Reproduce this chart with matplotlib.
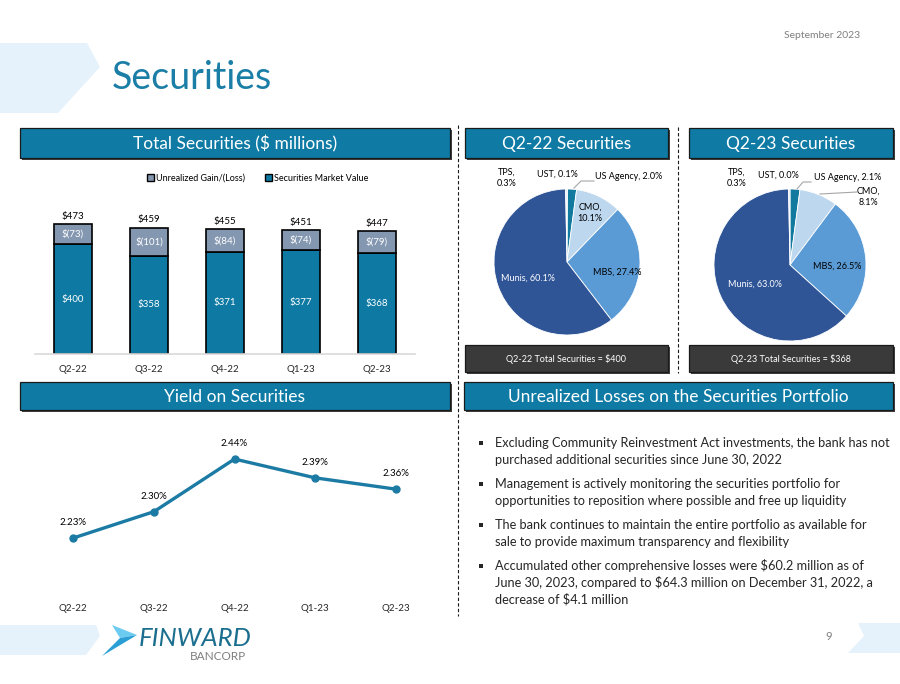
import matplotlib
matplotlib.use('Agg')
import matplotlib.pyplot as plt
from matplotlib.patches import Rectangle, Polygon

# ---------------- data ----------------
quarters = ['Q2-22', 'Q3-22', 'Q4-22', 'Q1-23', 'Q2-23']
market_value = [400, 358, 371, 377, 368]
unrealized_loss = [73, 101, 84, 74, 79]
totals = [473, 459, 455, 451, 447]
yields = [2.23, 2.30, 2.44, 2.39, 2.36]

pie_categories = ['UST', 'US Agency', 'CMO', 'MBS', 'Munis', 'TPS']
pie_q2_22 = [0.1, 2.0, 10.1, 27.4, 60.1, 0.3]
pie_q2_23 = [0.0, 2.1, 8.1, 26.5, 63.0, 0.3]
pie_totals = [400, 368]

bullets = [
    ["Excluding Community Reinvestment Act investments, the bank has not",
     "purchased additional securities since June 30, 2022"],
    ["Management is actively monitoring the securities portfolio for",
     "opportunities to reposition where possible and free up liquidity"],
    ["The bank continues to maintain the entire portfolio as available for",
     "sale to provide maximum transparency and flexibility"],
    ["Accumulated other comprehensive losses were $60.2 million as of",
     "June 30, 2023, compared to $64.3 million on December 31, 2022, a",
     "decrease of $4.1 million"],
]

# ---------------- style ----------------
plt.rcParams['font.family'] = ['Lato', 'DejaVu Sans']
TEAL = '#0F7BA5'
BAR_TEAL = '#0E7AA3'
GRAY_BAR = '#8497B0'
TXT = '#262626'
PIE_COLORS = ['#F2F2F2', '#127A9E', '#BDD7EE', '#5B9BD5', '#2F5597', '#DAE3F3']

W, H = 900, 684
fig = plt.figure(figsize=(9, 6.84), dpi=100)


def fbox(x0, y0, x1, y1):
    return [x0 / W, 1 - y1 / H, (x1 - x0) / W, (y1 - y0) / H]


bg = fig.add_axes([0, 0, 1, 1], zorder=0)
bg.set_xlim(0, W)
bg.set_ylim(H, 0)
bg.axis('off')

# decorative shapes
bg.add_patch(Polygon([(0, 43), (87, 43), (100, 67), (58, 113), (0, 113)],
                     closed=True, fc='#E5F2FB', ec='none'))
bg.add_patch(Polygon([(0, 625), (96, 625), (100, 636), (86, 655), (0, 655)],
                     closed=True, fc='#E5F2FB', ec='none'))
bg.add_patch(Polygon([(858, 623), (900, 623), (900, 653), (848, 653), (864, 636)],
                     closed=True, fc='#E5F2FB', ec='none'))

bg.text(860, 35, 'September 2023', ha='right', va='center', fontsize=7.5, color='#7F7F7F')
bg.text(112, 89, 'Securities', ha='left', va='baseline', fontsize=27, color='#1B7EA6')
bg.text(829, 636, '9', ha='center', va='center', fontsize=8, color='#7F7F7F')

# logo
bg.add_patch(Polygon([(112, 625), (137, 635), (120, 638)], closed=True, fc='#6CCBF0', ec='none'))
bg.add_patch(Polygon([(120, 638), (137, 635), (102, 656)], closed=True, fc='#2A9FD6', ec='none'))
bg.text(139, 638, 'FINWARD', ha='left', va='center', fontsize=18.5, style='italic',
        color='#1B6E8E')
bg.text(246, 656, 'BANCORP', ha='right', va='center', fontsize=8.5, color='#7F7F7F')


def banner(x0, y0, x1, y1, text, fs=12.5, fc=TEAL, tc='white'):
    bg.add_patch(Rectangle((x0 + 1.5, y0 + 1.5), x1 - x0, y1 - y0, fc='#404040', ec='none', zorder=1))
    bg.add_patch(Rectangle((x0, y0), x1 - x0, y1 - y0, fc=fc, ec='#1A1A1A', lw=0.9, zorder=2))
    bg.text((x0 + x1) / 2, (y0 + y1) / 2 + 0.5, text, ha='center', va='center',
            fontsize=fs, color=tc, zorder=3)


banner(20, 128, 450, 158, 'Total Securities ($ millions)')
banner(465, 128, 668, 158, 'Q2-22 Securities')
banner(689, 128, 893, 158, 'Q2-23 Securities')
banner(20, 382, 450, 410, 'Yield on Securities')
banner(464, 382, 893, 410, 'Unrealized Losses on the Securities Portfolio')
banner(465, 345, 668, 372, f'Q2-22 Total Securities = ${pie_totals[0]}', fs=6.5, fc='#3A3A3A')
banner(689, 345, 893, 372, f'Q2-23 Total Securities = ${pie_totals[1]}', fs=6.5, fc='#3A3A3A')

# dashed dividers
bg.plot([458, 458], [125, 616], color='#1A1A1A', lw=0.8, ls=(0, (3, 2)))
bg.plot([678, 678], [127, 373], color='#1A1A1A', lw=0.8, ls=(0, (3, 2)))

# ---------------- bar chart ----------------
scale = 110 / 400.0
ax_top, ax_bot = 195, 354
axb = fig.add_axes(fbox(35, ax_top, 415, ax_bot), zorder=2)
axb.patch.set_alpha(0)
x = range(len(quarters))
axb.bar(x, market_value, width=0.5, color=BAR_TEAL, edgecolor='black', lw=1.2,
        label='Securities Market Value')
axb.bar(x, unrealized_loss, bottom=market_value, width=0.5, color=GRAY_BAR,
        edgecolor='black', lw=1.2, label='Unrealized Gain/(Loss)')
axb.set_xlim(-0.5, len(quarters) - 0.5)
axb.set_ylim(0, (ax_bot - ax_top) / scale)
for s in ['top', 'right', 'left']:
    axb.spines[s].set_visible(False)
axb.spines['bottom'].set_color('#D9D9D9')
axb.spines['bottom'].set_linewidth(1.2)
axb.set_yticks([])
axb.set_xticks(list(x))
axb.set_xticklabels(quarters, fontsize=7, color=TXT)
axb.tick_params(axis='x', length=0, pad=8)
for i in x:
    axb.text(i, market_value[i] / 2, f'${market_value[i]}', ha='center', va='center',
             fontsize=7, color='white')
    axb.text(i, market_value[i] + unrealized_loss[i] / 2, f'$({unrealized_loss[i]})',
             ha='center', va='center', fontsize=7, color='white')
    axb.text(i, totals[i] + 12, f'${totals[i]}', ha='center', va='bottom',
             fontsize=7, color='black')
handles = [Rectangle((0, 0), 1, 1, fc=GRAY_BAR, ec='black', lw=1),
           Rectangle((0, 0), 1, 1, fc=BAR_TEAL, ec='black', lw=1)]
fig.legend(handles, ['Unrealized Gain/(Loss)', 'Securities Market Value'], loc='center',
           bbox_to_anchor=(258 / W, 1 - 178 / H), ncol=2, frameon=False, fontsize=6.5,
           handlelength=0.7, handleheight=0.7, handletextpad=0.3, columnspacing=2.2)


# ---------------- pies ----------------
def draw_pie(values, cx, cy, r, labels_pos, leaders, text_colors):
    k = 1.7
    ax = fig.add_axes(fbox(cx - k * r, cy - k * r, cx + k * r, cy + k * r), zorder=2)
    ax.patch.set_alpha(0)
    ax.pie(values, colors=PIE_COLORS, startangle=90, counterclock=False, radius=1,
           wedgeprops=dict(edgecolor='white', linewidth=0.6))
    ax.set_xlim(-k, k)
    ax.set_ylim(-k, k)
    ax.set_aspect('equal')
    ax.axis('off')
    for cat, v, (px, py), c in zip(pie_categories, values, labels_pos, text_colors):
        if cat in ('TPS', 'CMO'):
            txt = f'{cat},\n{v:.1f}%'
        else:
            txt = f'{cat}, {v:.1f}%'
        ax.text((px - cx) / r, -(py - cy) / r, txt, ha='center', va='center',
                fontsize=6.5, color=c, linespacing=1.25)
    for pts in leaders:
        ax.plot([(p[0] - cx) / r for p in pts], [-(p[1] - cy) / r for p in pts],
                color='#A6A6A6', lw=0.8)


draw_pie(pie_q2_22, 567, 262, 73,
         [(557, 174), (629, 176), (590, 213), (617, 272), (528, 278), (507, 178)],
         [[(574, 188), (581, 181), (594, 181)]],
         ['black', 'black', 'black', 'black', 'white', 'black'])
draw_pie(pie_q2_23, 790, 265, 76,
         [(778, 175), (848, 177), (868, 197), (837, 266), (755, 284), (737, 178)],
         [[(797, 189), (803, 182), (811, 182)], [(820, 194), (857, 192)]],
         ['black', 'black', 'black', 'black', 'white', 'black'])

# ---------------- yield line ----------------
ay_top, ay_bot = 425, 590
px_per_unit = 376.0
y_lo = 2.23 - (ay_bot - 538) / px_per_unit
y_hi = 2.23 + (538 - ay_top) / px_per_unit
axl = fig.add_axes(fbox(33, ay_top, 436, ay_bot), zorder=2)
axl.patch.set_alpha(0)
axl.plot(list(x), yields, color='#1C7BA4', lw=2.4, marker='o', markersize=5)
axl.set_xlim(-0.5, len(quarters) - 0.5)
axl.set_ylim(y_lo, y_hi)
for s in axl.spines.values():
    s.set_visible(False)
axl.set_yticks([])
axl.set_xticks(list(x))
axl.set_xticklabels(quarters, fontsize=7, color=TXT)
axl.tick_params(axis='x', length=0, pad=10)
for i in x:
    axl.annotate(f'{yields[i]:.2f}%', (i, yields[i]), xytext=(0, 11),
                 textcoords='offset points', ha='center', va='center',
                 fontsize=7, color='black')

# ---------------- bullets ----------------
y0 = 443
for lines in bullets:
    bg.add_patch(Rectangle((478.5, y0 - 2.2), 4.2, 4.2, fc='#262626', ec='none'))
    for j, line in enumerate(lines):
        bg.text(495, y0 + j * 16.7, line, ha='left', va='center', fontsize=9.2, color=TXT)
    y0 += 41

fig.savefig('out.png', dpi=100)
